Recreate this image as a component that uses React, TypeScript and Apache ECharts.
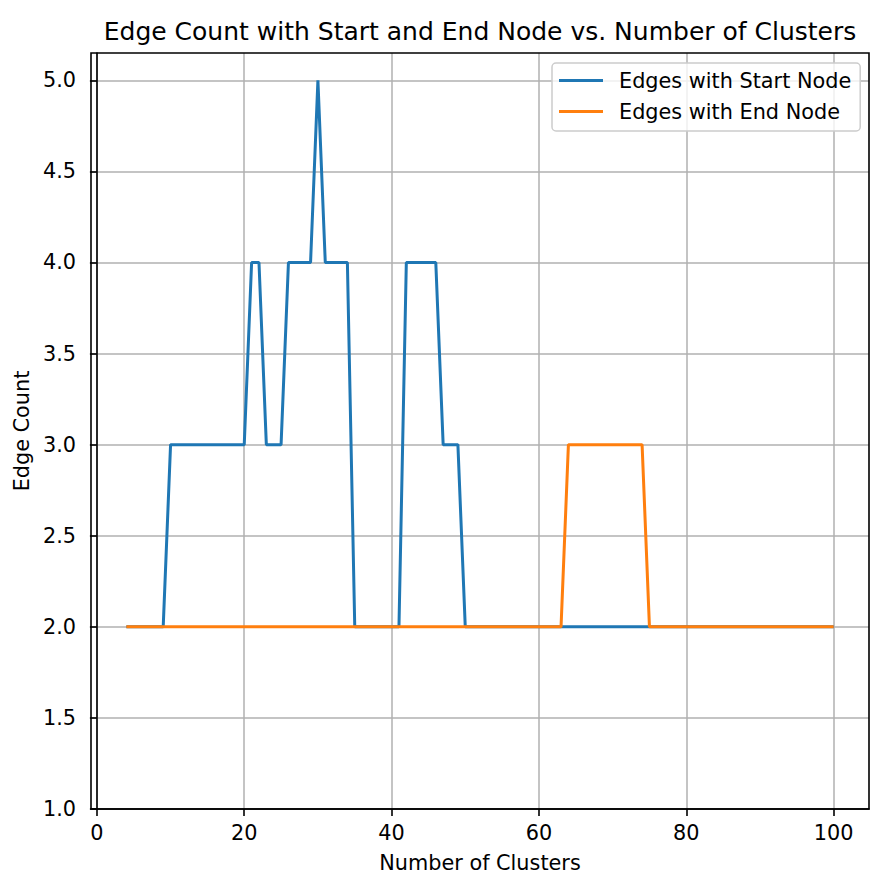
import React, { useEffect, useRef } from "react";
import * as echarts from "echarts";

const clusters = [
  4, 5, 6, 7, 8, 9, 10, 11, 12, 13, 14, 15, 16, 17, 18, 19, 20, 21, 22, 23, 24, 25,
  26, 27, 28, 29, 30, 31, 32, 33, 34, 35, 36, 37, 38, 39, 40, 41, 42, 43, 44, 45, 46,
  47, 48, 49, 50, 51, 52, 53, 54, 55, 56, 57, 58, 59, 60, 61, 62, 63, 64, 65, 66, 67,
  68, 69, 70, 71, 72, 73, 74, 75, 76, 77, 78, 79, 80, 81, 82, 83, 84, 85, 86, 87, 88,
  89, 90, 91, 92, 93, 94, 95, 96, 97, 98, 99, 100,
];

// x = 4..100
const startEdges = [
  2, 2, 2, 2, 2, 2, // 4-9
  3, 3, 3, 3, 3, 3, 3, 3, 3, 3, 3, // 10-20
  4, 4, // 21-22
  3, 3, 3, // 23-25
  4, 4, 4, 4, // 26-29
  5, // 30
  4, 4, 4, 4, // 31-34
  2, 2, 2, 2, 2, 2, 2, // 35-41
  4, 4, 4, 4, 4, // 42-46
  3, 3, 3, // 47-49
  2, 2, 2, 2, 2, 2, 2, 2, 2, 2, // 50-59
  2, 2, 2, 2, 2, 2, 2, 2, 2, 2, // 60-69
  2, 2, 2, 2, 2, 2, 2, 2, 2, 2, // 70-79
  2, 2, 2, 2, 2, 2, 2, 2, 2, 2, // 80-89
  2, 2, 2, 2, 2, 2, 2, 2, 2, 2, // 90-99
  2, // 100
];

const endEdges = [
  2, 2, 2, 2, 2, 2, // 4-9
  2, 2, 2, 2, 2, 2, 2, 2, 2, 2, // 10-19
  2, 2, 2, 2, 2, 2, 2, 2, 2, 2, // 20-29
  2, 2, 2, 2, 2, 2, 2, 2, 2, 2, // 30-39
  2, 2, 2, 2, 2, 2, 2, 2, 2, 2, // 40-49
  2, 2, 2, 2, 2, 2, 2, 2, 2, 2, // 50-59
  2, 2, 2, 2, // 60-63
  3, 3, 3, 3, 3, 3, 3, 3, 3, 3, 3, // 64-74
  2, 2, 2, 2, 2, // 75-79
  2, 2, 2, 2, 2, 2, 2, 2, 2, 2, // 80-89
  2, 2, 2, 2, 2, 2, 2, 2, 2, 2, // 90-99
  2, // 100
];

const xTicks = [0, 20, 40, 60, 80, 100];
const yTicks = [1.0, 1.5, 2.0, 2.5, 3.0, 3.5, 4.0, 4.5, 5.0];

const FONT = "DejaVu Sans";

export default function App() {
  const ref = useRef<HTMLDivElement>(null);

  useEffect(() => {
    if (!ref.current) return;
    const chart = echarts.init(ref.current, undefined, { renderer: "svg" });
    const pair = (ys: number[]) => clusters.map((x, i) => [x, ys[i]]);

    chart.setOption({
      animation: false,
      backgroundColor: "#ffffff",
      textStyle: { fontFamily: FONT },
      title: {
        text: "Edge Count with Start and End Node vs. Number of Clusters",
        left: 480,
        top: 19,
        padding: 0,
        textAlign: "center",
        textStyle: {
          fontFamily: FONT,
          fontSize: 25,
          lineHeight: 25,
          fontWeight: "normal",
          color: "#000000",
        },
      },
      legend: {
        orient: "vertical",
        left: 552,
        top: 63,
        padding: [7, 9, 9, 7],
        icon: "rect",
        itemWidth: 44,
        itemHeight: 3,
        itemGap: 10,
        backgroundColor: "rgba(255,255,255,0.8)",
        borderColor: "#cccccc",
        borderWidth: 1.5,
        borderRadius: 4,
        textStyle: {
          fontFamily: FONT,
          fontSize: 20.8,
          lineHeight: 21,
          color: "#000000",
          padding: [0, 0, 0, 11],
        },
        data: ["Edges with Start Node", "Edges with End Node"],
      },
      grid: {
        left: 91,
        right: 9,
        top: 53,
        bottom: 78,
        show: true,
        backgroundColor: "transparent",
        borderColor: "#000000",
        borderWidth: 1.6,
        z: 10,
      },
      xAxis: {
        type: "value",
        min: -0.8,
        max: 104.8,
        name: "Number of Clusters",
        nameLocation: "middle",
        nameGap: 43,
        nameTextStyle: {
          fontFamily: FONT,
          fontSize: 20.8,
          lineHeight: 21,
          color: "#000000",
          verticalAlign: "top",
        },
        axisLine: { show: true, lineStyle: { color: "#000000", width: 1.6 } },
        axisTick: {
          show: true,
          length: 7,
          customValues: xTicks,
          lineStyle: { color: "#000000", width: 1.6 },
        },
        axisLabel: {
          customValues: xTicks,
          margin: 13,
          fontFamily: FONT,
          fontSize: 20.8,
          lineHeight: 21,
          color: "#000000",
          formatter: (v: number) => String(v),
        },
        splitLine: { show: true, lineStyle: { color: "#b0b0b0", width: 1.5 } },
      },
      yAxis: {
        type: "value",
        min: 1,
        max: 5.15,
        name: "Edge Count",
        nameLocation: "middle",
        nameGap: 57,
        nameTextStyle: {
          fontFamily: FONT,
          fontSize: 20.8,
          lineHeight: 21,
          color: "#000000",
        },
        axisLine: { show: true, lineStyle: { color: "#000000", width: 1.6 } },
        axisTick: {
          show: true,
          length: 7,
          customValues: yTicks,
          lineStyle: { color: "#000000", width: 1.6 },
        },
        axisLabel: {
          customValues: yTicks,
          margin: 15,
          fontFamily: FONT,
          fontSize: 20.8,
          lineHeight: 21,
          color: "#000000",
          formatter: (v: number) => v.toFixed(1),
        },
        splitLine: { show: true, lineStyle: { color: "#b0b0b0", width: 1.5 } },
      },
      series: [
        {
          name: "Edges with Start Node",
          type: "line",
          data: pair(startEdges),
          symbol: "none",
          showSymbol: false,
          color: "#1f77b4",
          itemStyle: { color: "#1f77b4" },
          lineStyle: { color: "#1f77b4", width: 3 },
          z: 3,
        },
        {
          name: "Edges with End Node",
          type: "line",
          data: pair(endEdges),
          symbol: "none",
          showSymbol: false,
          color: "#ff7f0e",
          itemStyle: { color: "#ff7f0e" },
          lineStyle: { color: "#ff7f0e", width: 3 },
          z: 4,
        },
      ],
    });

    return () => chart.dispose();
  }, []);

  return (
    <div
      ref={ref}
      style={{ position: "fixed", left: 0, top: 0, width: 878, height: 887 }}
    />
  );
}
